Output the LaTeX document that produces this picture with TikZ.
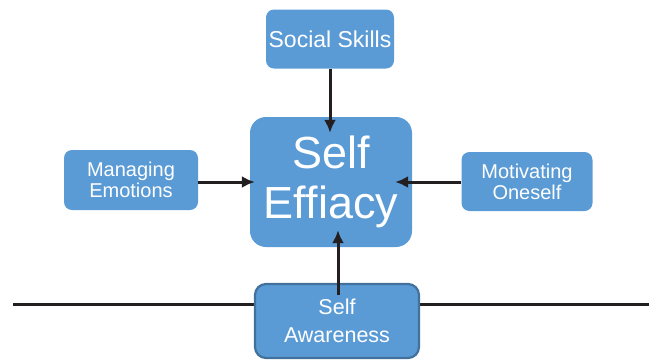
\documentclass[tikz,border=0pt]{standalone}
\usepackage{fontspec}
\setmainfont{Liberation Sans}
\usepackage{xcolor}
\usepackage{tikz}
\usetikzlibrary{arrows.meta}
\definecolor{boxblue}{HTML}{5B9BD5}
\definecolor{boxedge}{HTML}{41719C}
\definecolor{ink}{HTML}{231F20}
\tikzset{
  box/.style={fill=boxblue, draw=none, rounded corners=8pt, text=white, align=center, inner sep=0pt},
  bigbox/.style={box, rounded corners=16pt, minimum width=162pt, minimum height=130pt,
    font=\fontsize{45}{50}\selectfont},
  smallbox/.style={box, minimum width=133pt, minimum height=59pt, font=\fontsize{20}{21}\selectfont},
  basebox/.style={box, draw=boxedge, line width=2.2pt, rounded corners=11pt,
    minimum width=164pt, minimum height=74pt, font=\fontsize{21.5}{28}\selectfont},
  arr/.style={draw=ink, line width=3pt, -{Latex[length=13pt,width=12pt]}},
  ground/.style={draw=ink, line width=3pt}
}
\begin{document}
\begin{tikzpicture}[x=1pt,y=-1pt]
  \useasboundingbox (0,0) rectangle (649,360);

  \coordinate (gl) at (13,304);
  \coordinate (gr) at (649,304);
  \draw[ground] (gl) -- (gr);

  \node[bigbox] (se) at (331,182) {Self\\Effiacy};
  \node[smallbox, minimum width=128pt, font=\fontsize{23}{24}\selectfont] (ss) at (330,39) {Social Skills};
  \node[smallbox, minimum width=134pt, minimum height=60pt] (me) at (131,180) {Managing\\Emotions};
  \node[smallbox, minimum width=131pt] (mo) at (527,181.5) {Motivating\\Oneself};
  \node[basebox] (sa) at (337,321) {Self\\Awareness};

  \draw[arr, shorten >=-16pt] (ss.south) -- (ss.south |- se.north);
  \draw[arr, shorten >=-5pt] (me.east |- se.west) -- (se.west);
  \draw[arr, shorten >=-17pt] (mo.west |- se.east) -- (se.east);
  \draw[arr, shorten <=-12pt, shorten >=-17pt] ([xshift=1pt]sa.north) -- ([xshift=1pt]sa.north |- se.south);
\end{tikzpicture}
\end{document}
